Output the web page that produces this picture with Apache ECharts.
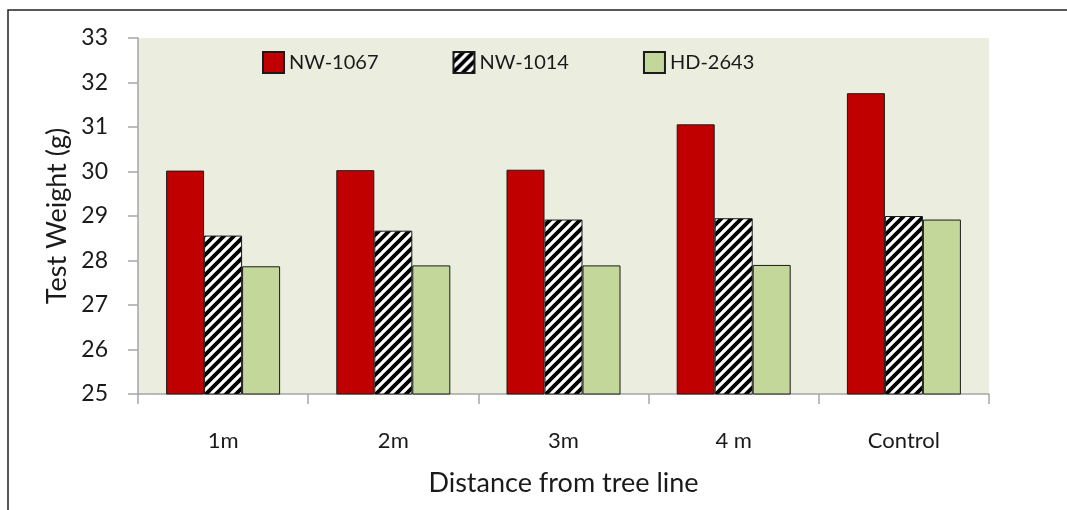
<!DOCTYPE html>
<html>
<head>
<meta charset="utf-8">
<script src="https://cdn.jsdelivr.net/npm/echarts@6/dist/echarts.min.js"></script>
<style>
html,body{margin:0;padding:0;background:#fff;}
#c{width:1067px;height:510px;}
</style>
</head>
<body>
<div id="c"></div>
<script>
var categories = ['1m', '2m', '3m', '4 m', 'Control'];
var nw1067 = [30.02, 30.03, 30.04, 31.06, 31.76];
var nw1014 = [28.56, 28.67, 28.92, 28.95, 29.0];
var hd2643 = [27.87, 27.89, 27.89, 27.90, 28.92];
var yTicks = [25, 26, 27, 28, 29, 30, 31, 32, 33];

function hatch() {
  var c = document.createElement('canvas');
  c.width = 10; c.height = 10;
  var g = c.getContext('2d');
  g.fillStyle = '#ffffff';
  g.fillRect(0, 0, 10, 10);
  g.strokeStyle = '#000000';
  g.lineWidth = 3.8;
  g.beginPath();
  g.moveTo(-5, 5); g.lineTo(5, -5);
  g.moveTo(0, 10); g.lineTo(10, 0);
  g.moveTo(5, 15); g.lineTo(15, 5);
  g.stroke();
  return c;
}

var FONT = 'Lato';
var chart = echarts.init(document.getElementById('c'), null, {renderer: 'canvas'});
var border = {borderColor: '#1a1a1a', borderWidth: 1};

chart.setOption({
  animation: false,
  textStyle: {fontFamily: FONT, color: '#1a1a1a'},
  graphic: [{
    type: 'polyline',
    shape: {points: [[8, 520], [8, 10], [1070, 10]]},
    style: {stroke: '#222', lineWidth: 1.5, fill: null},
    silent: true
  }],
  grid: {
    left: 138, right: 78, top: 38, bottom: 116,
    show: true, backgroundColor: '#ebeedf', borderWidth: 0
  },
  legend: {
    left: 262, top: 51, padding: 0,
    itemWidth: 21, itemHeight: 21, itemGap: 74,
    icon: 'rect',
    textStyle: {fontFamily: FONT, fontSize: 20, color: '#1a1a1a'},
    data: ['NW-1067', 'NW-1014', 'HD-2643']
  },
  xAxis: {
    type: 'category',
    data: categories,
    name: 'Distance from tree line',
    nameLocation: 'middle',
    nameGap: 76,
    nameTextStyle: {fontFamily: FONT, fontSize: 27, color: '#1a1a1a'},
    axisLine: {lineStyle: {color: '#a6a6a6', width: 1.5}},
    axisTick: {show: true, length: 10, lineStyle: {color: '#a6a6a6', width: 1.5}},
    axisLabel: {margin: 36, fontSize: 22, color: '#1a1a1a', fontFamily: FONT}
  },
  yAxis: {
    type: 'value',
    min: yTicks[0], max: yTicks[yTicks.length - 1], interval: 1,
    name: 'Test Weight (g)',
    nameLocation: 'middle',
    nameGap: 67,
    nameTextStyle: {fontFamily: FONT, fontSize: 27, color: '#1a1a1a'},
    axisLine: {show: true, lineStyle: {color: '#a6a6a6', width: 1.5}},
    axisTick: {show: true, length: 10, lineStyle: {color: '#a6a6a6', width: 1.5}},
    splitLine: {show: false},
    axisLabel: {margin: 30, fontSize: 23, color: '#1a1a1a', fontFamily: FONT}
  },
  series: [
    {name: 'NW-1067', type: 'bar', data: nw1067, barWidth: 38, barGap: '0%',
     itemStyle: Object.assign({color: '#c00000'}, border)},
    {name: 'NW-1014', type: 'bar', data: nw1014, barWidth: 38, barGap: '0%',
     itemStyle: Object.assign({color: {image: hatch(), repeat: 'repeat'}}, border)},
    {name: 'HD-2643', type: 'bar', data: hd2643, barWidth: 38, barGap: '0%',
     itemStyle: Object.assign({color: '#c4d79b'}, border)}
  ]
});
</script>
</body>
</html>
